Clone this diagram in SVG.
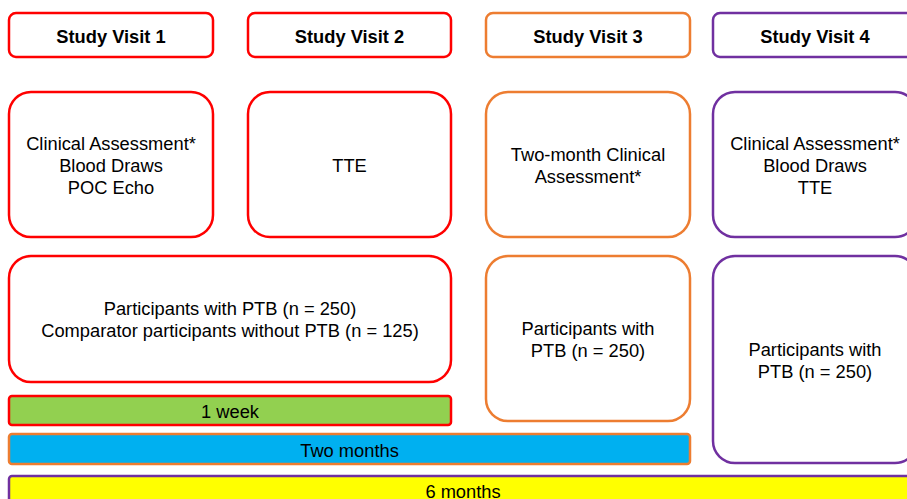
<svg xmlns="http://www.w3.org/2000/svg" width="907" height="499" viewBox="0 0 907 499">
<style>
text{font-family:"Liberation Sans",Arial,sans-serif;font-size:18.3px;fill:#000;text-anchor:middle;dominant-baseline:central}
.h{font-weight:bold}
rect{stroke-width:2.5;fill:#fff}
.r{stroke:#FF0000}.o{stroke:#ED7D31}.p{stroke:#7030A0}
</style>
<rect width="907" height="499" fill="#fff" stroke="none"/>
<g id="sv1"><rect class="r" x="9" y="13" width="204" height="44" rx="7"/><text class="h" x="111" y="36">Study Visit 1</text></g>
<g id="sv2"><rect class="r" x="248" y="13" width="203" height="44" rx="7"/><text class="h" x="349.5" y="36">Study Visit 2</text></g>
<g id="sv3"><rect class="o" x="486" y="13" width="204" height="44" rx="7"/><text class="h" x="588" y="36">Study Visit 3</text></g>
<g id="sv4"><rect class="p" x="713" y="13" width="204" height="44" rx="7"/><text class="h" x="815" y="36">Study Visit 4</text></g>
<g id="a1"><rect class="r" x="9" y="92" width="204" height="145" rx="22"/><text x="111" y="143">Clinical Assessment*</text><text x="111" y="165">Blood Draws</text><text x="111" y="187">POC Echo</text></g>
<g id="a2"><rect class="r" x="248" y="92" width="203" height="145" rx="22"/><text x="349.5" y="165">TTE</text></g>
<g id="a3"><rect class="o" x="486" y="92" width="204" height="145" rx="22"/><text x="588" y="154">Two-month Clinical</text><text x="588" y="176">Assessment*</text></g>
<g id="a4"><rect class="p" x="713" y="92" width="204" height="145" rx="22"/><text x="815" y="143">Clinical Assessment*</text><text x="815" y="165">Blood Draws</text><text x="815" y="187">TTE</text></g>
<g id="p12"><rect class="r" x="9" y="256" width="442" height="126" rx="22"/><text x="230" y="308">Participants with PTB (n = 250)</text><text x="230" y="330">Comparator participants without PTB (n = 125)</text></g>
<g id="p3"><rect class="o" x="486" y="256" width="204" height="165" rx="22"/><text x="588" y="328">Participants with</text><text x="588" y="350">PTB (n = 250)</text></g>
<g id="p4"><rect class="p" x="713" y="256" width="204" height="207" rx="22"/><text x="815" y="349">Participants with</text><text x="815" y="371">PTB (n = 250)</text></g>
<g id="week"><rect class="r" x="9" y="396" width="442" height="29" rx="3" style="fill:#92D050"/><text x="230" y="411">1 week</text></g>
<g id="twomonths"><rect class="o" x="9" y="434" width="681" height="30" rx="3" style="fill:#00B0F0"/><text x="349.5" y="450">Two months</text></g>
<g id="sixmonths"><rect class="p" x="9" y="476" width="908" height="40" rx="3" style="fill:#FFFF00"/><text x="463" y="491">6 months</text></g>
<g id="connectors"></g>
</svg>
